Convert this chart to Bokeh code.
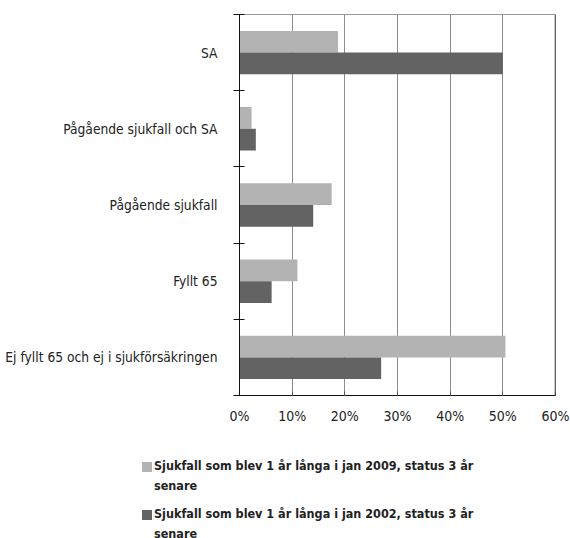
import numpy as np
from bokeh.plotting import figure
from bokeh.layouts import column
from bokeh.models import (Range1d, FixedTicker, PrintfTickFormatter, Span, ColumnDataSource, Div)
from bokeh.transform import dodge
from bokeh.embed import file_html
from bokeh.resources import INLINE

# ---- data ----
categories = ["SA", "Pågående sjukfall och SA", "Pågående sjukfall", "Fyllt 65",
              "Ej fyllt 65 och ej i sjukförsäkringen"]
series_2009 = [18.7, 2.3, 17.5, 11.0, 50.5]
series_2002 = [50.0, 3.1, 14.0, 6.1, 26.9]
series_names = ["Sjukfall som blev 1 år långa i jan 2009, status 3 år senare",
                "Sjukfall som blev 1 år långa i jan 2002, status 3 år senare"]
x_ticks = [0, 10, 20, 30, 40, 50, 60]

FONT = "DejaVu Sans Condensed"
LIGHT = "#b3b3b3"
DARK = "#636363"
series_colors = [LIGHT, DARK]

n = len(categories)
centers = list(n - 0.5 - np.arange(n))
boundaries = list(np.arange(n + 1).astype(float))

src = ColumnDataSource(dict(cat=categories, y=centers, v09=series_2009, v02=series_2002))

p = figure(frame_width=316, frame_height=381,
           x_range=Range1d(x_ticks[0], x_ticks[-1]), y_range=Range1d(0, n),
           output_backend="svg", toolbar_location=None,
           min_border_left=239, min_border_right=15, min_border_top=14, min_border_bottom=45)

bar_h = 0.285
p.hbar(y=dodge("y", bar_h / 2), left=0, right="v09", height=bar_h, source=src,
       fill_color=LIGHT, line_color=None)
p.hbar(y=dodge("y", -bar_h / 2), left=0, right="v02", height=bar_h, source=src,
       fill_color=DARK, line_color=None)

# x axis
p.xaxis.ticker = FixedTicker(ticks=x_ticks)
p.xaxis.formatter = PrintfTickFormatter(format="%d%%")
p.xaxis.major_tick_in = 4
p.xaxis.major_tick_out = 0
p.xaxis.minor_tick_line_color = None
p.xaxis.major_tick_line_color = "#555555"
p.xaxis.axis_line_color = "#111111"
p.xaxis.major_label_text_font = FONT
p.xaxis.major_label_text_font_size = "14px"
p.xaxis.major_label_text_color = "#222222"
p.xaxis.major_label_standoff = 12

# y axis
p.yaxis.ticker = FixedTicker(ticks=centers, minor_ticks=boundaries)
p.yaxis.major_label_overrides = {c: cat for c, cat in zip(centers, categories)}
p.yaxis.major_tick_in = 0
p.yaxis.major_tick_out = 0
p.yaxis.minor_tick_in = 5
p.yaxis.minor_tick_out = 6
p.yaxis.minor_tick_line_color = "#111111"
p.yaxis.axis_line_color = "#111111"
p.yaxis.major_label_text_font = FONT
p.yaxis.major_label_text_font_size = "13.7px"
p.yaxis.major_label_text_color = "#222222"
p.yaxis.major_label_standoff = 16

p.xgrid.grid_line_color = "#8c8c8c"
p.ygrid.grid_line_color = None
p.outline_line_color = "#999999"
p.add_layout(Span(location=x_ticks[-1], dimension="height", line_color="#333333", line_width=1.5))

# ---- legend below the chart (HTML text, wrapped after "3 år") ----
rows = []
for i, (name, color) in enumerate(zip(series_names, series_colors)):
    head, tail = name.rsplit(" ", 1)
    mt = 11 if i == 0 else 8
    rows.append(
        f'<div style="display:flex;align-items:flex-start;margin-top:{mt}px;">'
        f'<span style="flex:none;display:inline-block;width:10px;height:10px;'
        f'background:{color};margin-top:6px;margin-right:2px;"></span>'
        f'<span>{head}<br>{tail}</span></div>')
html = ('<div style="padding-top:0.1px;margin-left:137px;'
        f"font-family:'{FONT}',sans-serif;font-weight:bold;font-size:12.5px;"
        'line-height:20px;color:#222222;white-space:nowrap;">' + "".join(rows) + '</div>')
legend_div = Div(text=html, width=570, height=98)

layout = column(p, legend_div, spacing=0)
open("out.html", "w").write(file_html(layout, INLINE))
